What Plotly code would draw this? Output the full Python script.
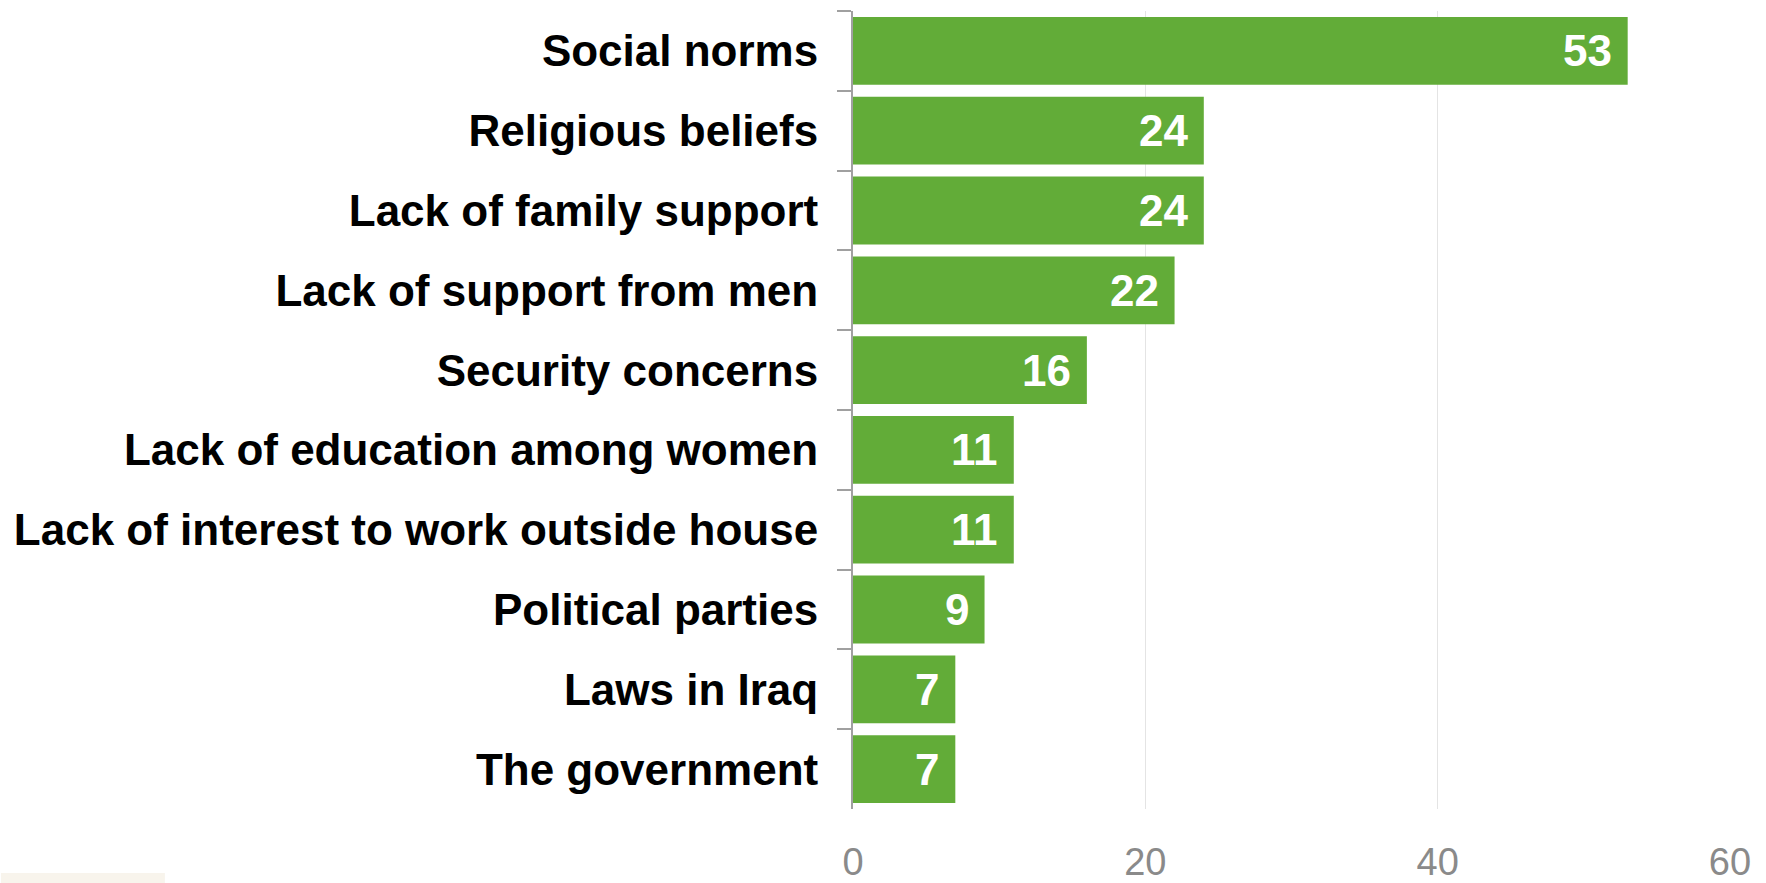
import plotly.graph_objects as go

# Barriers to women's participation (counts of responses)
categories = [
    "Social norms",
    "Religious beliefs",
    "Lack of family support",
    "Lack of support from men",
    "Security concerns",
    "Lack of education among women",
    "Lack of interest to work outside house",
    "Political parties",
    "Laws in Iraq",
    "The government",
]
counts = [53, 24, 24, 22, 16, 11, 11, 9, 7, 7]
x_ticks = [0, 20, 40, 60]

W, H = 1766, 883
ML, MR, MT, MB = 852.5, 36, 11, 74
plot_w = W - ML - MR
plot_h = H - MT - MB
plot_bottom = H - MB

GREEN = "#62ac38"
FONT = "Liberation Sans, Arial, sans-serif"

fig = go.Figure()
fig.add_trace(go.Bar(
    y=categories,
    x=counts,
    orientation="h",
    marker=dict(color=GREEN, line=dict(width=0)),
    hoverinfo="x+y",
))

# Value labels drawn inside the end of each bar
for cat, val in zip(categories, counts):
    fig.add_annotation(
        x=val, y=cat, xref="x", yref="y",
        text=f"<b>{val}</b>", showarrow=False,
        xanchor="right", yanchor="middle", xshift=-14,
        font=dict(family=FONT, size=44, color="white"),
    )

# Small tinted strip in the lower-left corner
fig.add_shape(
    type="rect", xref="paper", yref="paper",
    x0=(0 - ML) / plot_w, x1=(164 - ML) / plot_w,
    y0=(plot_bottom - 883) / plot_h, y1=(plot_bottom - 873) / plot_h,
    fillcolor="#f8f4ec", line=dict(width=0), layer="below",
)

fig.update_layout(
    width=W, height=H,
    margin=dict(l=ML, r=MR, t=MT, b=MB, pad=0, autoexpand=False),
    paper_bgcolor="white", plot_bgcolor="white",
    bargap=0.15,
    showlegend=False,
    font=dict(family=FONT),
    xaxis=dict(
        range=[0, 60], tickvals=x_ticks, ticktext=[str(v) for v in x_ticks],
        showgrid=True, gridcolor="#e4e4e4", gridwidth=1,
        zeroline=False, showline=False, automargin=False,
        ticks="", ticklabelstandoff=27,
        tickfont=dict(family=FONT, size=38, color="#8a8a8a"),
    ),
    yaxis=dict(
        categoryorder="array", categoryarray=categories, autorange="reversed",
        showline=True, linecolor="#a0a0a0", linewidth=2, automargin=False,
        ticks="outside", tickson="boundaries", ticklen=14,
        tickcolor="#a0a0a0", tickwidth=2,
        ticklabelstandoff=24,
        tickfont=dict(family=FONT, size=44, color="black", weight="bold"),
        showgrid=False, zeroline=False,
    ),
)

fig.write_html("out.html")
